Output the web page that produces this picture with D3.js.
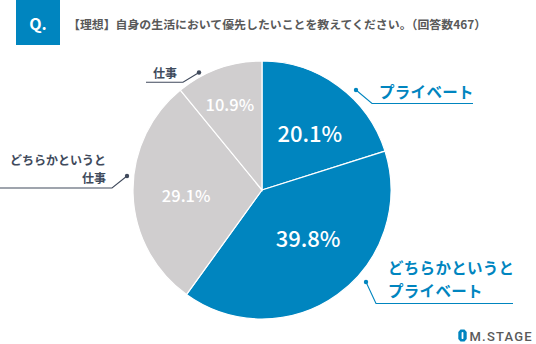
<!DOCTYPE html>
<html>
<head>
<meta charset="utf-8">
<script src="https://cdn.jsdelivr.net/npm/d3@7"></script>
<style>
  html, body { margin: 0; padding: 0; background: #fff; }
  svg { display: block; font-family: "Noto Sans CJK JP", "Noto Sans", sans-serif; }
</style>
</head>
<body>
<svg id="chart" width="536" height="344"></svg>
<script>
// Survey answers (n = 467), clockwise from 12 o'clock
const categories = ["プライベート", "どちらかというと\nプライベート", "どちらかというと\n仕事", "仕事"];
const shares = [20.1, 39.8, 29.1, 10.9];
const valueLabels = ["20.1%", "39.8%", "29.1%", "10.9%"];

const title = "【理想】自身の生活において優先したいことを教えてください。（回答数467）";

const BLUE = "#0085bf";
const GRAY = "#d0cecf";
const INK = "#404a5c";

const svg = d3.select("#chart");

// Header: question badge and title
svg.append("rect").attr("x", 16).attr("y", 0).attr("width", 44).attr("height", 45).attr("fill", BLUE);
svg.append("text").attr("x", 38).attr("y", 23).attr("text-anchor", "middle")
  .attr("dominant-baseline", "central").attr("fill", "#fff")
  .attr("font-size", 16).attr("font-weight", 700).text("Q.");
svg.append("text").attr("x", 68).attr("y", 23).attr("dominant-baseline", "central")
  .attr("fill", "#595959").attr("font-size", 11.9).attr("font-weight", 700).text(title);

// Pie
const cx = 262, cy = 190, R = 129;
const g = svg.append("g").attr("transform", `translate(${cx},${cy})`);
const pie = d3.pie().sort(null).value(d => d)(shares);
const arc = d3.arc().innerRadius(0).outerRadius(R);
const fills = [BLUE, BLUE, GRAY, GRAY];

g.selectAll("path.slice").data(pie).join("path")
  .attr("class", "slice")
  .attr("d", arc)
  .attr("fill", (d, i) => fills[i])
  .attr("stroke", "#fff").attr("stroke-width", 1.2);

// Value labels inside the slices (polar placement relative to each slice centre)
const valueLayout = [
  { r: 75, da: 3.4, size: 22 },
  { r: 66, da: -8.4, size: 22 },
  { r: 76, da: -2, size: 16.5 },
  { r: 92, da: -0.8, size: 16.5 }
];
g.selectAll("text.value").data(pie).join("text")
  .attr("class", "value")
  .attr("transform", (d, i) => {
    const L = valueLayout[i];
    const a = (d.startAngle + d.endAngle) / 2 + L.da * Math.PI / 180;
    return `translate(${L.r * Math.sin(a)},${-L.r * Math.cos(a)})`;
  })
  .attr("text-anchor", "middle").attr("dominant-baseline", "central")
  .attr("fill", "#fff").attr("font-weight", 500)
  .attr("font-size", (d, i) => valueLayout[i].size)
  .text((d, i) => valueLabels[i]);

// Callouts: dot near the rim, elbow, underline, category text
const callouts = [
  { dot: [356, 90], elbow: [372, 103.5], end: [473, 103.5], tx: 379, ty: [90.5], anchor: "start", size: 15.5, color: BLUE },
  { dot: [366, 282], elbow: [376, 303.5], end: [513, 303.5], tx: 388, ty: [267, 290], anchor: "start", size: 15.5, color: BLUE },
  { dot: [127, 176], elbow: [112, 188], end: [0, 188], tx: 106, ty: [159, 177], anchor: "end", size: 12, color: INK },
  { dot: [199, 72.5], elbow: [183, 82.3], end: [146, 82.3], tx: 177, ty: [72.7], anchor: "end", size: 12, color: INK }
];

categories.forEach((name, i) => {
  const c = callouts[i];
  svg.append("path")
    .attr("d", d3.line()([c.dot, c.elbow, c.end]))
    .attr("fill", "none").attr("stroke", c.color).attr("stroke-width", 1.1);
  svg.append("circle").attr("cx", c.dot[0]).attr("cy", c.dot[1]).attr("r", 2.2).attr("fill", c.color);
  const lines = name.split("\n");
  lines.forEach((t, k) => {
    svg.append("text")
      .attr("x", c.tx).attr("y", c.ty[k])
      .attr("text-anchor", c.anchor).attr("dominant-baseline", "central")
      .attr("fill", c.color).attr("font-size", c.size).attr("font-weight", 700)
      .attr("letter-spacing", c.size > 14 ? 0.3 : 0)
      .text(t);
  });
});

// Brand mark
const lg = svg.append("g").attr("transform", "translate(462.5,335.5)");
const oct = [[-2, -6], [2, -6], [4.2, -3.5], [4.2, 3.5], [2, 6], [-2, 6], [-4.2, 3.5], [-4.2, -3.5]];
lg.append("path").attr("d", d3.line()(oct) + "Z").attr("fill", BLUE);
lg.append("rect").attr("x", -0.9).attr("y", -3.6).attr("width", 1.8).attr("height", 7.2).attr("rx", 0.9).attr("fill", "#fff");
svg.append("text").attr("x", 469.5).attr("y", 336).attr("dominant-baseline", "central")
  .attr("fill", "#5a5a5a").attr("font-size", 13).attr("font-weight", 500)
  .attr("letter-spacing", 1.2)
  .attr("font-family", "Roboto, sans-serif").text("M.STAGE");
</script>
</body>
</html>
